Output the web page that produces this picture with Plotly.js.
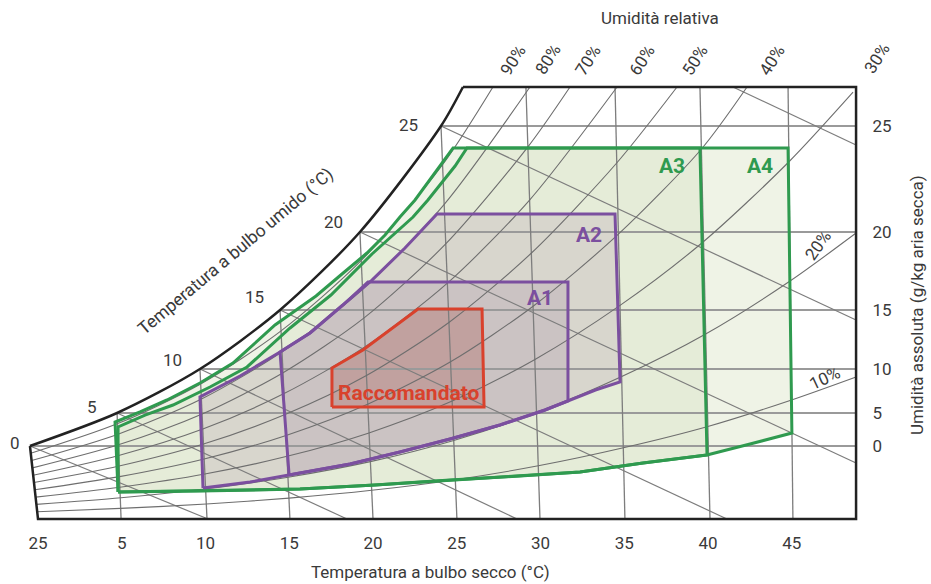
<!DOCTYPE html>
<html><head><meta charset="utf-8">
<script src="https://cdn.plot.ly/plotly-3.0.1.min.js"></script>
<style>body{margin:0;background:#fff}#chart{width:931px;height:584px}</style>
</head><body><div id="chart"></div>
<script>
// ---------- axis ticks ----------
const DB_TICKS = [0, 5, 10, 15, 20, 25, 30, 35, 40, 45];
const DB_TICK_TEXT = ['25', '5', '10', '15', '20', '25', '30', '35', '40', '45'];
const HUM_LEVELS = [16.90, 24.54, 34.72, 48.38, 66.44, 90.97];
const HUM_TICK_TEXT = ['0', '5', '10', '15', '20', '25'];
const HUM_START_X = [-0.48, 4.72, 9.67, 14.45, 19.22, 24.06];
const RIGHT_X = 48.84;

// ---------- saturation curve (100%) ----------
const SAT_X = [-0.48, 4.72, 9.67, 14.45, 19.22, 24.06, 25.37];
const SAT_Y = [16.90, 24.54, 34.72, 48.38, 66.44, 90.97, 100];

// ---------- dry bulb lines ----------
const DB_BOTTOM_X = [4.96, 10.09, 15.04, 20.00, 25.01, 29.97, 35.04, 40.12, 45.07];
const DB_TOP_X = [4.72, 9.67, 14.45, 19.22, 24.06, 29.13, 34.45, 39.52, 44.78];
const DB_TOP_Y = [24.54, 34.72, 48.38, 66.44, 90.97, 100, 100, 100, 100];

// ---------- wet bulb lines ----------
const WB_LABELS = ['0', '5', '10', '15', '20', '25'];
const WB_X0 = [-0.48, 4.72, 9.67, 14.45, 19.22, 24.06, 41.49];
const WB_Y0 = [16.90, 24.54, 34.72, 48.38, 66.44, 90.97, 100];
const WB_X1 = [10.15, 18.45, 28.60, 41.13, 48.84, 48.84, 48.84];
const WB_Y1 = [0, 0, 0, 0, 12.96, 46.06, 86.57];

// ---------- relative humidity curves ----------
const RH_TOP_LABELS = ['90%', '80%', '70%', '60%', '50%', '40%', '30%'];
const RH_SIDE_LABELS = ['20%', '10%'];
const RH_X = [
  [-0.05, 4.93, 10.05, 14.99, 19.92, 24.92, 29.87, 34.95, 39.99, 44.99, 48.84],
  [-0.10, 4.96, 9.92, 14.93, 19.84, 24.82, 29.77, 34.85, 39.86, 44.90, 48.84],
  [-0.14, 4.89, 9.96, 14.87, 19.76, 24.73, 29.67, 34.75, 39.74, 44.82, 48.66],
  [-0.19, 4.87, 9.92, 14.81, 19.68, 24.63, 29.56, 34.65, 39.61, 42.33],
  [-0.24, 4.84, 9.88, 14.75, 19.61, 24.53, 29.46, 34.55, 38.15],
  [-0.29, 4.82, 9.84, 14.69, 19.53, 24.44, 29.36, 34.57],
  [-0.33, 4.80, 9.80, 14.63, 19.45, 24.34, 29.26, 31.76],
  [-0.38, 4.78, 9.76, 14.57, 19.37, 24.24, 29.37],
  [-0.43, 4.76, 9.71, 14.51, 19.29, 24.13, 27.16]
];
const RH_Y = [
  [1.69, 2.45, 3.47, 4.84, 6.64, 9.10, 12.31, 16.48, 21.41, 27.55, 32.87],
  [3.38, 4.91, 6.94, 9.68, 13.29, 18.19, 24.63, 32.96, 42.82, 55.09, 66.20],
  [5.07, 7.36, 10.42, 14.51, 19.93, 27.29, 36.94, 49.44, 64.24, 82.64, 98.80],
  [6.76, 9.81, 13.89, 19.35, 26.57, 36.39, 49.26, 65.93, 85.65, 100],
  [8.45, 12.27, 17.36, 24.19, 33.22, 45.49, 61.57, 82.41, 100],
  [10.14, 14.72, 20.83, 29.03, 39.86, 54.58, 73.89, 100],
  [11.83, 17.18, 24.31, 33.87, 46.50, 63.68, 86.20, 100],
  [13.52, 19.63, 27.78, 38.70, 53.15, 72.78, 100],
  [15.21, 22.08, 31.25, 43.54, 59.79, 81.88, 100]
];

// ---------- envelopes ----------
const A4_X = [4.78, 4.60, 6.09, 7.70, 9.67, 11.64, 14.15, 16.60, 18.15, 19.64, 20.72, 21.61, 22.51, 23.28, 24.06, 24.78,
  44.78, 45.01, 42.51, 39.94, 36.12, 32.36, 28.78, 24.60, 20.12, 15.64, 9.67, 4.78];
const A4_Y = [6.25, 22.45, 24.77, 27.55, 31.48, 36.11, 44.91, 51.62, 56.71, 61.57, 65.74, 69.91, 73.84, 78.01, 82.18, 85.88,
  85.88, 19.91, 17.36, 14.81, 12.96, 10.88, 9.95, 9.03, 7.87, 6.94, 6.48, 6.25];
const A3_X = [4.78, 4.78, 6.39, 8.06, 10.27, 12.48, 15.05, 17.49, 19.94, 22.39, 23.28, 24.12, 24.90, 25.61,
  39.52, 39.94, 36.12, 32.36, 28.78, 24.60, 20.12, 15.64, 9.67, 4.78];
const A3_Y = [6.25, 21.30, 24.07, 26.39, 30.56, 35.19, 44.21, 51.85, 61.34, 69.91, 73.84, 78.01, 81.71, 85.88,
  85.88, 14.81, 12.96, 10.88, 9.95, 9.03, 7.87, 6.94, 6.48, 6.25];
const A2_X = [9.85, 9.67, 12.06, 14.45, 16.24, 18.21, 19.94, 21.91, 23.82, 34.45, 34.75, 33.28, 31.64, 30.27, 27.58,
  24.60, 21.61, 18.63, 15.64, 14.99, 12.66, 9.85];
const A2_Y = [7.18, 28.24, 33.10, 38.66, 43.06, 49.54, 55.32, 62.73, 70.60, 70.60, 31.71, 29.86, 27.32, 25.23, 21.76,
  18.52, 15.51, 12.73, 10.65, 10.19, 8.56, 7.18];
const A1_X = [14.99, 14.45, 16.24, 18.21, 19.70, 31.64, 31.64, 30.27, 27.58, 24.60, 21.61, 18.63, 15.64, 14.99];
const A1_Y = [10.19, 38.66, 43.06, 49.54, 54.86, 54.86, 27.32, 25.23, 21.76, 18.52, 15.51, 12.73, 10.65, 10.19];
const RACC_X = [17.55, 17.55, 19.40, 21.01, 22.69, 26.51, 26.63, 17.55];
const RACC_Y = [25.93, 34.95, 39.12, 43.75, 48.61, 48.61, 25.93, 25.93];

// ---------- build ----------
function segs(x0, y0, x1, y1) {
  const xs = [], ys = [];
  for (let i = 0; i < x0.length; i++) { xs.push(x0[i], x1[i], null); ys.push(y0[i], y1[i], null); }
  return {xs, ys};
}
const GRID = '#7d7d7d', GREEN = '#2f9a4f', PURPLE = '#7b4f9f', RED = '#d9412c', FRAME = '#222';
const traces = [];
function fillPoly(x, y, c) {
  traces.push({x, y, type: 'scatter', mode: 'lines', fill: 'toself', fillcolor: c, line: {width: 0, color: c}, hoverinfo: 'skip'});
}
function outline(x, y, c, w) {
  traces.push({x, y, type: 'scatter', mode: 'lines', line: {color: c, width: w, shape: 'linear'}, hoverinfo: 'skip'});
}
fillPoly(A4_X, A4_Y, '#eff3e6');
fillPoly(A3_X, A3_Y, '#e5ecd8');
fillPoly(A2_X, A2_Y, '#d8d6cd');
fillPoly(A1_X, A1_Y, '#cbc3c3');
fillPoly(RACC_X, RACC_Y, '#c1a19f');

const hs = segs(HUM_START_X, HUM_LEVELS, HUM_LEVELS.map(() => RIGHT_X), HUM_LEVELS);
traces.push({x: hs.xs, y: hs.ys, type: 'scatter', mode: 'lines', line: {color: '#9a9a9a', width: 2}, hoverinfo: 'skip'});
const ds = segs(DB_BOTTOM_X, DB_BOTTOM_X.map(() => 0), DB_TOP_X, DB_TOP_Y);
traces.push({x: ds.xs, y: ds.ys, type: 'scatter', mode: 'lines', line: {color: GRID, width: 1.3}, hoverinfo: 'skip'});
const ws = segs(WB_X0, WB_Y0, WB_X1, WB_Y1);
traces.push({x: ws.xs, y: ws.ys, type: 'scatter', mode: 'lines', line: {color: GRID, width: 1.2}, hoverinfo: 'skip'});
for (let i = 0; i < RH_X.length; i++) {
  traces.push({x: RH_X[i], y: RH_Y[i], type: 'scatter', mode: 'lines', line: {color: '#6e6e6e', width: 1.1, shape: 'spline', smoothing: 0.8}, hoverinfo: 'skip'});
}
outline(A4_X, A4_Y, GREEN, 3);
outline(A3_X, A3_Y, GREEN, 3);
outline(A2_X, A2_Y, PURPLE, 3);
outline(A1_X, A1_Y, PURPLE, 3);
outline(RACC_X, RACC_Y, RED, 3);
traces.push({x: SAT_X, y: SAT_Y, type: 'scatter', mode: 'lines', line: {color: FRAME, width: 2.5, shape: 'spline', smoothing: 0.8}, hoverinfo: 'skip'});
traces.push({x: [SAT_X[0], 0, RIGHT_X, RIGHT_X, SAT_X[SAT_X.length - 1]], y: [SAT_Y[0], 0, 0, 100, 100],
  type: 'scatter', mode: 'lines', line: {color: FRAME, width: 2.5}, hoverinfo: 'skip'});

// ---------- text ----------
const FONT = 'Roboto, "Liberation Sans", Arial, sans-serif';
const TXT = '#3a3a3a';
const ML = 26, MT = 83, PW = 834, PH = 440;
const ann = [];
function A(px, py, text, opts) {
  ann.push(Object.assign({x: (px - ML) / PW, y: (MT + PH - py) / PH, xref: 'paper', yref: 'paper', text, showarrow: false,
    xanchor: 'center', yanchor: 'middle',
    font: {family: FONT, size: 17, color: TXT}}, opts || {}));
}
const wbPos = [[15, 443], [92, 407], [172, 360], [254, 297], [333, 222], [408, 125]];
WB_LABELS.forEach((t, i) => A(wbPos[i][0], wbPos[i][1], t));
A(236, 252, 'Temperatura a bulbo umido (°C)', {textangle: -40, font: {family: FONT, size: 17.5, color: TXT}});
const rhTopPos = [[513, 60], [548, 59], [588, 60], [642, 60], [695, 60], [772, 60], [877, 58]];
RH_TOP_LABELS.forEach((t, i) => A(rhTopPos[i][0], rhTopPos[i][1], t, {textangle: -58}));
A(818, 245, RH_SIDE_LABELS[0], {textangle: -55});
A(825, 378, RH_SIDE_LABELS[1], {textangle: -25});
A(660, 18, 'Umidità relativa');
A(430, 572, 'Temperatura a bulbo secco (°C)');
A(917, 305, 'Umidità assoluta (g/kg aria secca)', {textangle: -90});
const B = (c) => ({family: FONT, size: 21, color: c});
A(409, 393, '<b>Raccomandato</b>', {font: B(RED)});
A(540, 298, '<b>A1</b>', {font: B(PURPLE)});
A(589, 235, '<b>A2</b>', {font: B(PURPLE)});
A(672, 166, '<b>A3</b>', {font: B(GREEN)});
A(760, 166, '<b>A4</b>', {font: B(GREEN)});

const layout = {
  width: 931, height: 584,
  margin: {l: ML, r: 931 - ML - PW, t: MT, b: 584 - MT - PH},
  paper_bgcolor: '#fff', plot_bgcolor: 'rgba(0,0,0,0)',
  showlegend: false, hovermode: false,
  xaxis: {range: [-0.7164, 49.075], showgrid: false, zeroline: false, showline: false,
    tickvals: DB_TICKS, ticktext: DB_TICK_TEXT, ticks: 'outside', ticklen: 5, tickcolor: 'rgba(0,0,0,0)',
    tickfont: {family: FONT, size: 17, color: TXT}, fixedrange: true},
  yaxis: {range: [-0.926, 100.926], side: 'right', showgrid: false, zeroline: false, showline: false,
    tickvals: HUM_LEVELS, ticktext: HUM_TICK_TEXT, ticks: 'outside', ticklen: 8, tickcolor: 'rgba(0,0,0,0)',
    tickfont: {family: FONT, size: 17, color: TXT}, fixedrange: true},
  annotations: ann
};
Plotly.newPlot('chart', traces, layout, {staticPlot: true, displayModeBar: false});
</script></body></html>
